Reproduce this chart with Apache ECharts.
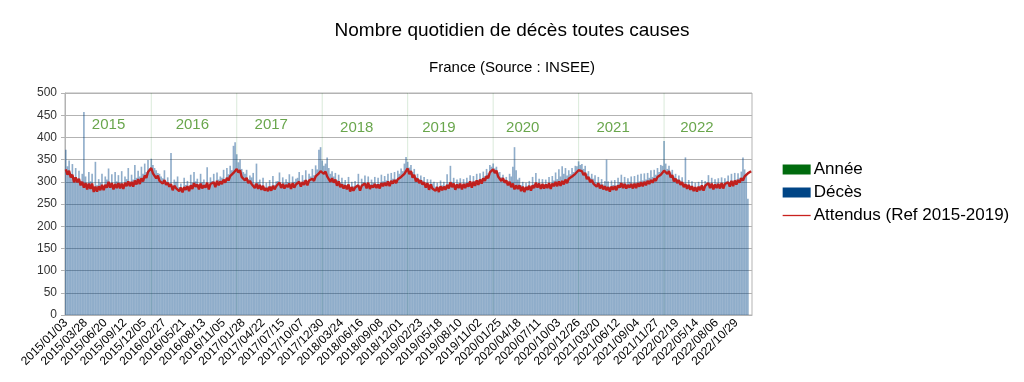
<!DOCTYPE html>
<html>
<head>
<meta charset="utf-8">
<script src="https://cdn.jsdelivr.net/npm/echarts@6/dist/echarts.min.js"></script>
<style>
html,body{margin:0;padding:0;background:#fff;}
#chart{width:1024px;height:382px;}
</style>
</head>
<body>
<div id="chart"></div>
<script>
// Weekly sampling starting 2015/01/03 (tick labels every 12 weeks = 84 days)
const startDate = '2015/01/03';

// Expected daily deaths ("Attendus (Ref 2015-2019)"), one value per week
const attendus2015 = [328,316,325,310,316,299,310,299,307,292,300,287,297,283,296,284,296,277,289,278,290,281,293,281,293,287,300,287,297,283,295,286,297,285,296,284,298,290,301,290,300,289,303,294,306,295,308,301,314,309,322,318];
const attendus2016 = [331,319,322,308,314,302,306,296,304,293,298,289,295,281,291,286,290,279,287,276,288,282,290,279,292,284,297,289,294,283,296,285,292,287,298,283,295,291,299,288,302,292,301,295,305,298,309,303,313,312,320,323];
const attendus2017 = [329,321,326,311,313,303,309,297,302,295,299,286,296,284,293,282,291,280,286,279,289,280,291,283,290,286,298,286,295,285,293,288,296,284,297,287,294,292,300,289,299,293,304,292,303,299,307,302,312,310,319,324];
const attendus2018 = [327,318,323,312,315,300,308,298,305,291,301,288,294,285,292,283,294,278,288,280,287,283,292,280,291,288,296,285,298,284,292,287,295,286,294,285,297,290,298,291,301,290,302,296,304,297,306,304,311,311,318,322];
const attendus2019 = [330,317,324,309,316,301,307,297,303,294,299,287,297,282,294,285,289,280,288,277,290,281,289,282,293,285,299,288,296,282,294,286,296,283,295,286,296,289,301,287,300,291,303,293,305,296,308,302,313,308,321,320];
const attendus2020 = [328,320,325,312,314,302,308,298,303,292,300,288,296,283,292,284,292,279,289,277,288,282,291,280,292,286,298,287,296,284,295,285,294,286,297,284,296,290,300,290,301,291,302,294,305,297,307,303,312,310,318,321,326];
const attendus2021 = [322,324,315,320,306,311,299,304,296,300,289,297,285,293,283,290,281,288,278,289,282,290,281,292,287,297,286,295,285,293,287,295,285,296,286,297,289,299,290,300,292,302,295,304,298,307,302,311,309,316,318,325];
const attendus2022 = [329,318,324,310,315,301,307,297,304,293,299,288,295,284,293,282,290,279,288,278,289,281,292,280,291,287,297,286,296,283,294,286,295,285,297,285,295,291,299,289,302,290,303,294,304,298,308,303,312,309,319,317,324];

// Observed deaths ("Décès"), one value per week
const deces2015 = [372,335,348,318,340,310,331,305,325,302,318,457,312,296,322,301,318,286,345,292,306,298,318,290,312,305,330,296,317,289,322,301,315,298,324,293,312,306,331,299,316,305,338,309,325,312,334,318,341,322,349,330];
const deces2016 = [352,338,331,326,320,318,312,308,326,301,310,297,365,292,305,300,312,288,296,284,309,293,302,290,316,298,322,301,307,293,318,299,305,296,333,291,310,302,318,297,321,305,312,309,327,304,331,317,336,326,381,389];
const deces2017 = [362,344,350,329,322,318,327,306,314,310,320,296,341,299,305,291,309,287,298,289,304,290,313,293,301,302,321,294,310,297,306,299,317,292,312,300,307,309,322,298,315,304,326,301,318,312,329,315,337,328,372,378];
const deces2018 = [348,336,341,355,331,318,324,312,320,304,316,298,309,296,304,292,311,288,300,290,302,293,318,289,307,299,314,297,312,294,305,298,311,295,309,296,316,301,313,303,318,299,320,307,322,306,325,318,330,324,341,356];
const deces2019 = [345,332,338,322,329,311,318,306,314,303,311,296,306,292,305,296,300,289,298,287,303,292,300,291,317,296,336,299,309,291,305,297,308,292,306,297,309,300,315,298,313,302,318,304,319,307,323,313,329,319,338,334];
const deces2020 = [341,330,334,321,322,310,316,305,311,301,318,312,334,378,326,305,309,292,300,287,298,291,302,289,311,295,320,296,307,293,306,294,305,295,311,293,313,303,321,306,328,312,335,318,331,314,326,317,331,322,336,335,346];
const deces2021 = [338,340,329,336,318,324,309,318,307,315,298,311,296,306,294,302,350,301,289,303,293,304,292,309,299,316,297,311,296,308,300,312,296,313,298,316,301,318,303,319,305,320,309,326,311,327,316,331,322,338,336,392];
const deces2022 = [341,329,336,321,327,312,318,306,314,302,310,296,355,294,304,291,301,288,298,287,300,291,304,289,302,298,315,296,309,293,306,297,308,294,310,296,308,301,314,299,318,301,320,305,319,309,323,355,328,318,262,null,null];

// Year separators (weekly category at which each new year begins) and year labels
const yearStarts = ['2016/01/02','2016/12/31','2017/12/30','2018/12/29','2019/12/28','2020/12/26','2021/12/25'];
const yearLineValue = [500];
const yearNames = ['2015','2016','2017','2018','2019','2020','2021','2022'];
const yearLabelCats = ['2015/07/04','2016/06/25','2017/05/27','2018/05/26','2019/05/11','2020/05/02','2021/05/22','2022/05/14'];
const yearLabelValues = [428,428,428,422,422,422,422,422];

const attendus = [].concat(attendus2015,attendus2016,attendus2017,attendus2018,attendus2019,attendus2020,attendus2021,attendus2022);
const deces = [].concat(deces2015,deces2016,deces2017,deces2018,deces2019,deces2020,deces2021,deces2022);

function fmt(d){
  const y=d.getUTCFullYear(), m=String(d.getUTCMonth()+1).padStart(2,'0'), dd=String(d.getUTCDate()).padStart(2,'0');
  return y+'/'+m+'/'+dd;
}
const categories = [];
{
  const p = startDate.split('/').map(Number);
  let t = Date.UTC(p[0],p[1]-1,p[2]);
  for (let i=0;i<attendus.length;i++){ categories.push(fmt(new Date(t))); t += 7*86400000; }
}
const anneeData = categories.map(c => yearStarts.includes(c) ? yearLineValue[0] : null);
const yearLabelData = yearLabelCats.map((c,i)=>({name:yearNames[i], value:[c, yearLabelValues[i]]}));

const FONT = 'Liberation Sans';
const chart = echarts.init(document.getElementById('chart'), null, {renderer:'canvas'});
chart.setOption({
  animation:false,
  backgroundColor:'#ffffff',
  textStyle:{fontFamily:FONT},
  title:[
    {text:'Nombre quotidien de décès toutes causes', left:'center', top:16,
     textStyle:{fontFamily:FONT, fontSize:19, fontWeight:'normal', color:'#000'}},
    {text:'France (Source : INSEE)', left:'center', top:55,
     textStyle:{fontFamily:FONT, fontSize:15, fontWeight:'normal', color:'#000'}}
  ],
  legend:{
    orient:'vertical', left:777, top:156, itemWidth:28, itemHeight:10, itemGap:6,
    textStyle:{fontFamily:FONT, fontSize:17, color:'#000', lineHeight:17, padding:[0,0,0,-2]},
    data:[
      {name:'Année', icon:'rect', itemStyle:{color:'#006b0e', opacity:1}},
      {name:'Décès', icon:'rect', itemStyle:{color:'#004586', opacity:1}},
      {name:'Attendus (Ref 2015-2019)', itemStyle:{color:'#c9211e', borderWidth:0, opacity:0},
       lineStyle:{color:'#c9211e', width:1.3, opacity:1}}
    ]
  },
  grid:{left:65, right:272, top:93, bottom:67, show:true, borderColor:'#b3b3b3', borderWidth:1},
  xAxis:[
    {type:'category', data:categories, boundaryGap:true,
     axisLine:{lineStyle:{color:'#b3b3b3'}},
     axisTick:{interval:0, length:5, lineStyle:{color:'#b3b3b3'}},
     axisLabel:{interval:11, rotate:45, margin:6, fontFamily:FONT, fontSize:12, color:'#000'},
     splitLine:{show:false}},
    {type:'category', data:categories, boundaryGap:true, show:false}
  ],
  yAxis:{type:'value', min:0, max:500, interval:50,
    axisLine:{show:true, lineStyle:{color:'#b3b3b3'}},
    axisTick:{show:true, length:4, lineStyle:{color:'#b3b3b3'}},
    axisLabel:{fontFamily:FONT, fontSize:12, color:'#333', margin:8},
    splitLine:{lineStyle:{color:'#b3b3b3'}}},
  series:[
    {name:'Année', type:'bar', xAxisIndex:1, data:anneeData, barWidth:1,
     itemStyle:{color:'#007000', opacity:0.15}, silent:true},
    {name:'Décès', type:'bar', xAxisIndex:0, data:deces, barCategoryGap:'0%',
     itemStyle:{color:'#004586', opacity:0.44}},
    {name:'Attendus (Ref 2015-2019)', type:'line', xAxisIndex:0, data:attendus,
     symbol:'none', showSymbol:false, lineStyle:{color:'#c0201e', width:2.4}, itemStyle:{color:'#c0201e'}, z:5},
    {name:'Année', type:'scatter', xAxisIndex:1, data:yearLabelData, symbolSize:1,
     itemStyle:{color:'transparent'}, z:6,
     label:{show:true, position:'inside', formatter:p=>p.name, fontFamily:FONT, fontSize:15, color:'#43901f'}}
  ]
});
</script>
</body>
</html>
